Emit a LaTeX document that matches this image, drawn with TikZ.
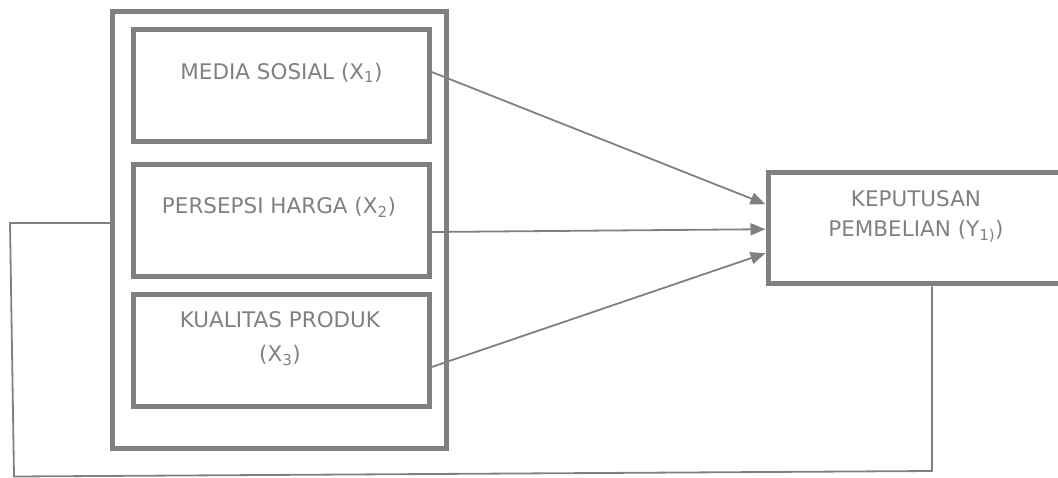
\documentclass[tikz,border=0pt]{standalone}
\usepackage{fontspec}
\setmainfont{DejaVu Sans}
\usetikzlibrary{arrows.meta,calc}
\definecolor{ink}{RGB}{128,128,128}
\begin{document}
\begin{tikzpicture}[x=1pt,y=-1pt,
  frame/.style={draw=ink, line width=5pt, fill=none, inner sep=0pt},
  varbox/.style={frame, minimum width=295.5pt, minimum height=112pt},
  lbl/.style={text=ink, align=center, inner sep=0pt},
  link/.style={draw=ink, line width=1.8pt},
  arr/.style={link, -{Triangle[length=15pt,width=12pt]}}
]
\useasboundingbox (0,0) rectangle (1058,477);
\clip (0,0) rectangle (1058,477);

% group frame around the independent variables
\node[frame, minimum width=334.4pt, minimum height=437.3pt] (grp) at (279.5,229.7) {};

% independent variables
\node[varbox] (x1) at (281.5,85) {};
\node[varbox] (x2) at (281.5,220) {};
\node[varbox] (x3) at (281.5,350) {};

% dependent variable
\node[frame, minimum width=294pt, minimum height=111.5pt] (y) at (915,228.2) {};

% labels
\node[lbl, anchor=base, font=\fontsize{21.5}{30}\selectfont] (t1) at (281.5,79)
  {MEDIA SOSIAL (X\textsubscript{1})};
\node[lbl, anchor=base, font=\fontsize{21.5}{30}\selectfont] (t2) at (279,213)
  {PERSEPSI HARGA (X\textsubscript{2})};
\node[lbl, font=\fontsize{21.5}{34}\selectfont] (t3) at (280,338.5)
  {KUALITAS PRODUK\\(X\textsubscript{3})};
\node[lbl, font=\fontsize{21.5}{30}\selectfont] (ty) at (916,216.5)
  {KEPUTUSAN\\PEMBELIAN (Y\textsubscript{1)})};

% direct effects
\draw[arr] ($(x1.east)+(0,-13)$) -- ($(y.west)+(0,-24)$);
\draw[arr] ($(x2.east)+(0,12)$) -- ($(y.west)+(0,1)$);
\draw[arr] ($(x3.east)+(0,17)$) -- ($(y.west)+(0,25)$);

% feedback line from the decision back to the group
\coordinate (f1) at (932,471);
\coordinate (f2) at (14,476.5);
\coordinate (f3) at (10,223);
\draw[link] (y.south -| f1) -- (f1) -- (f2) -- (f3) -- (f3 -| grp.west);
\end{tikzpicture}
\end{document}
